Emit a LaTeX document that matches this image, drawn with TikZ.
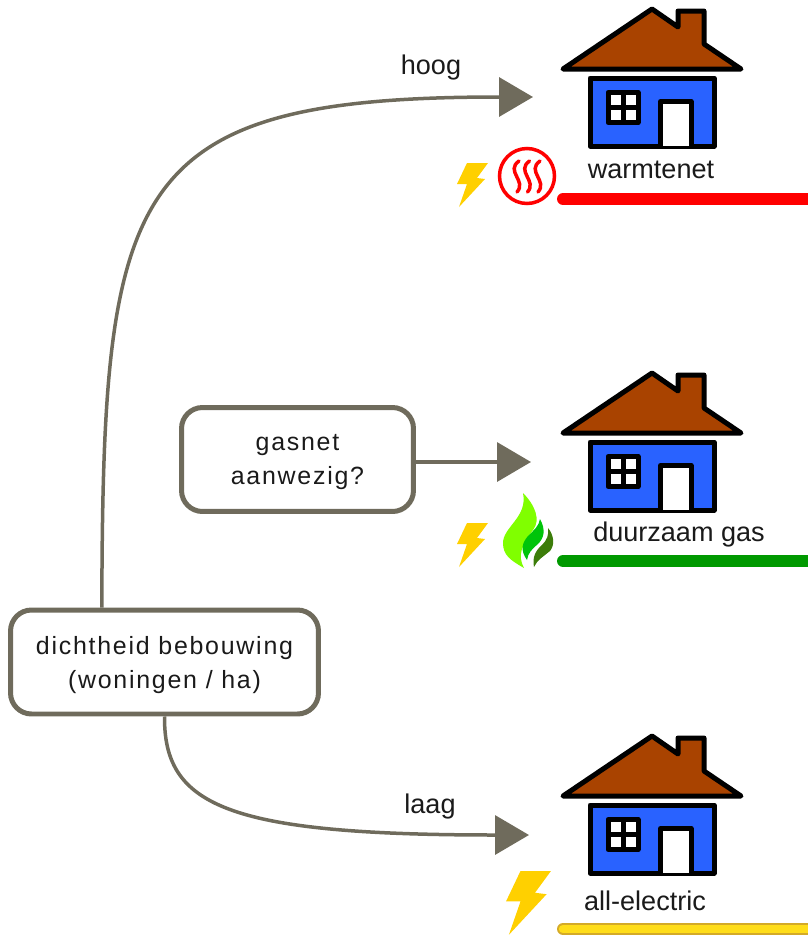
\documentclass[tikz,border=0pt]{standalone}
\usepackage{fontspec}
\setmainfont{Liberation Sans}
\newfontfamily\spacedfont[LetterSpace=7]{Liberation Sans}
\usetikzlibrary{arrows.meta}
\definecolor{flowgray}{HTML}{6F6B5C}
\definecolor{roofbrown}{HTML}{A94300}
\definecolor{wallblue}{HTML}{2962FF}
\definecolor{boltyellow}{HTML}{FFD000}
\definecolor{inktext}{HTML}{1A1A1A}
\definecolor{gasgreen}{HTML}{009900}
\definecolor{barrim}{HTML}{D4AA28}
\definecolor{barfill}{HTML}{FFDD1A}
\definecolor{flamelight}{HTML}{80FF00}
\definecolor{flamemid}{HTML}{00C40A}
\definecolor{flamedark}{HTML}{3C7D0A}
\begin{document}
\begin{tikzpicture}[x=0.02cm,y=-0.02cm]
    \tikzstyle{block}=[draw=flowgray,line width=0.1cm,rounded corners=0.42cm,align=center,text=inktext,font=\spacedfont\fontsize{14.2}{19.3}\selectfont,inner sep=0pt,text depth=0pt]
    \tikzstyle{flow}=[draw=flowgray,line width=0.07cm,-{Triangle[length=0.68cm,width=0.78cm]}]
    \tikzstyle{label}=[text=inktext,font=\fontsize{15.4}{18}\selectfont,inner sep=0pt]
    \tikzstyle{bar}=[line width=0.24cm,line cap=round]
    \tikzset{
        house/.pic={
            \draw[fill=roofbrown,line width=0.1cm,line join=round] (89,0) -- (115,18) -- (115,2) -- (141,2) -- (141,35) -- (178,60) -- (0,60) -- cycle;
            \draw[fill=wallblue,line width=0.1cm,line join=round] (27,69) rectangle (151,137);
            \draw[fill=white,line width=0.1cm,line join=round] (97.5,137) -- (97.5,92.5) -- (128,92.5) -- (128,137);
            \draw[fill=white,line width=0.1cm,line join=round] (45,83.5) rectangle (75,113.5);
            \draw[line width=0.1cm] (60,83.5) -- (60,113.5) (45,98.5) -- (75,98.5);
        },
        bolt/.pic={
            \fill[boltyellow] (10,0) -- (31,0) -- (20,15) -- (28,16) -- (2,44) -- (10,21) -- (0,21) -- cycle;
        }
    }

    \useasboundingbox (0,0) rectangle (808,937);
    \clip (0,0) rectangle (808,937);

    \node[block,minimum width=6.16cm,minimum height=2.08cm] (dichtheid) at (164.5,662) {dichtheid bebouwing\\(woningen / ha)};
    \node[block,minimum width=4.64cm,minimum height=2.08cm] (gasnet) at (297.5,459.5) {gasnet\\aanwezig?};

    \coordinate (warmtenet_in) at (533,97);
    \coordinate (gas_in) at (531,462);
    \coordinate (electric_in) at (529,835);

    \draw[flow] (dichtheid.139) .. controls (103,185) and (125,97) .. (warmtenet_in);
    \draw[flow] (gasnet.east |- gas_in) -- (gas_in);
    \draw[flow] (dichtheid.south) .. controls (164,805) and (225,835) .. (electric_in);

    \node[label] (hoog) at (431,68) {hoog};
    \node[label] (laag) at (430,806) {laag};

    \pic at (563,9) {house};
    \pic at (563,373) {house};
    \pic at (563,736) {house};

    \node[label] (warmtenet) at (651,170) {warmtenet};
    \node[label] (gas) at (679,534) {duurzaam gas};
    \node[label] (electric) at (645,901) {all-electric};

    \draw[bar,red] (563,199) -- (830,199);
    \draw[bar,gasgreen] (563,561) -- (830,561);
    \draw[bar,barrim] (563,929) -- (830,929);
    \draw[line width=0.17cm,line cap=round,barfill] (563,929) -- (830,929);

    \pic at (457,163) {bolt};
    \pic at (457,523) {bolt};
    \pic[scale=1.45] at (506,871) {bolt};

    % warmtenet icon
    \draw[red,line width=0.07cm] (527,176) circle (27.5);
    \foreach \x in {516,526.5,537} {
        \draw[red,line width=0.07cm,line cap=round] (\x+3,161) .. controls (\x-11,171) and (\x+11,181) .. (\x+1,192);
    }

    % gas flame
    \fill[flamelight] (523,493) .. controls (535,505) and (541,520) .. (533,530) .. controls (522,545) and (517,555) .. (524,568) .. controls (510,560) and (503,555) .. (503,543) .. controls (503,527) and (528,517) .. cycle;
    \fill[flamemid] (540,519) .. controls (546,530) and (544,538) .. (538,544) .. controls (532,549) and (528,553) .. (527,560) .. controls (520,550) and (522,543) .. (528,536) .. controls (534,530) and (539,526) .. cycle;
    \fill[flamedark] (548,528) .. controls (554,535) and (555,545) .. (550,551) .. controls (544,556) and (537,560) .. (534,567) .. controls (532,557) and (536,550) .. (542,545) .. controls (547,540) and (549,535) .. cycle;
\end{tikzpicture}
\end{document}
